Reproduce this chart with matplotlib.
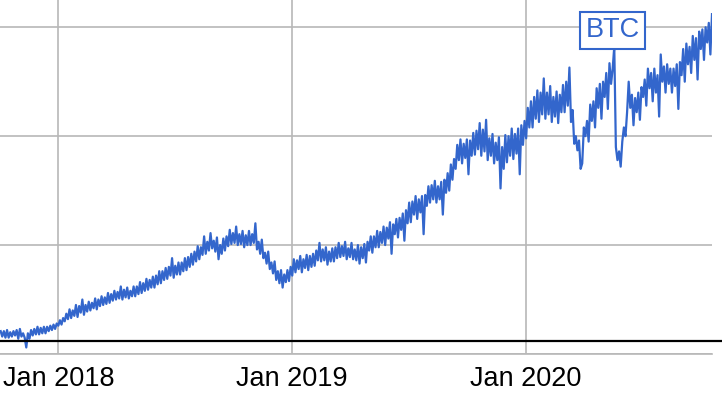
import numpy as np
import pandas as pd
import matplotlib
matplotlib.use("Agg")
import matplotlib.pyplot as plt
import matplotlib.dates as mdates

# values, one every 2.5 days from 2017-10-03
btc = [21, 16, 21, 15, 22, 15, 20, 16, 21, 17, 22, 14, 23, 16, 19, 15,
       6, 19, 14, 22, 17, 23, 18, 25, 18, 24, 19, 25, 19, 25, 21, 26,
       22, 27, 23, 28, 26, 31, 27, 33, 30, 37, 32, 41, 33, 40, 35, 45,
       34, 44, 38, 50, 36, 45, 39, 48, 40, 47, 42, 51, 41, 50, 44, 53,
       45, 52, 46, 56, 47, 55, 49, 58, 50, 57, 51, 62, 50, 59, 52, 61,
       51, 58, 53, 62, 53, 62, 55, 66, 56, 65, 58, 69, 59, 68, 61, 71,
       61, 72, 64, 76, 65, 76, 68, 79, 69, 80, 72, 88, 70, 81, 73, 84,
       73, 84, 76, 88, 77, 89, 80, 92, 82, 94, 85, 99, 87, 98, 91, 108,
       92, 103, 95, 111, 97, 104, 94, 107, 87, 100, 92, 106, 95, 108, 99, 114,
       101, 111, 102, 117, 100, 110, 101, 113, 98, 109, 100, 113, 100, 110, 102, 120,
       96, 103, 92, 105, 88, 93, 83, 94, 78, 84, 74, 85, 68, 76, 65, 77,
       61, 73, 66, 77, 67, 80, 72, 87, 75, 86, 78, 90, 75, 87, 79, 91,
       77, 90, 80, 92, 81, 95, 86, 102, 85, 96, 86, 98, 82, 94, 85, 97,
       85, 98, 88, 102, 89, 99, 90, 103, 87, 97, 89, 102, 87, 96, 86, 100,
       83, 98, 88, 101, 84, 103, 95, 108, 93, 108, 98, 113, 98, 112, 102, 117,
       100, 116, 106, 121, 92, 119, 110, 124, 107, 125, 114, 129, 104, 132, 120, 139,
       121, 140, 128, 145, 124, 142, 130, 145, 110, 146, 136, 154, 139, 155, 142, 159,
       139, 154, 142, 158, 128, 160, 148, 166, 150, 174, 160, 179, 170, 192, 178, 197,
       175, 193, 180, 197, 165, 196, 182, 203, 183, 205, 188, 212, 182, 206, 186, 215,
       178, 198, 182, 202, 175, 194, 178, 199, 152, 190, 170, 201, 176, 200, 182, 207,
       179, 202, 184, 207, 165, 210, 192, 214, 198, 226, 208, 232, 208, 236, 216, 242,
       213, 240, 220, 253, 216, 240, 220, 246, 213, 236, 218, 241, 212, 238, 222, 247,
       222, 250, 228, 263, 213, 224, 193, 200, 187, 196, 170, 175, 208, 200, 214, 195,
       229, 214, 232, 208, 244, 226, 248, 216, 250, 236, 258, 225, 267, 248, 262, 282,
       190, 178, 186, 172, 195, 208, 200, 222, 250, 226, 238, 210, 235, 222, 240, 215,
       245, 236, 252, 228, 262, 244, 258, 232, 262, 240, 256, 218, 275, 250, 264, 240,
       266, 248, 262, 240, 262, 246, 266, 225, 268, 256, 280, 250, 285, 266, 282, 258,
       292, 270, 290, 252, 296, 280, 298, 270, 300, 286, 304, 275, 312]
dates = pd.date_range("2017-10-03", periods=len(btc), freq="60h")
year_ticks = pd.to_datetime(["2018-01-01", "2019-01-01", "2020-01-01"])
tick_labels = ["Jan 2018", "Jan 2019", "Jan 2020"]
label_idx = 382  # where the BTC tag sits

blue = "#3366cc"
grid = "#b8b8b8"

plt.rcParams["font.family"] = ["Liberation Sans", "DejaVu Sans"]

fig = plt.figure(figsize=(7.22, 4.04), dpi=100)
ax = fig.add_axes([0, 50 / 404, 712 / 722, 354 / 404])

ax.plot(dates, btc, color=blue, lw=1.6, zorder=3)

ax.set_xlim(pd.Timestamp("2017-10-02"), pd.Timestamp("2020-10-17"))
ax.set_ylim(0, 325)

ax.set_yticks([0, 100, 200, 300])
ax.set_xticks(year_ticks)
ax.set_xticklabels(tick_labels, fontsize=19.5)
ax.tick_params(axis="x", length=0, pad=9)
ax.tick_params(axis="y", length=0, labelleft=False)
ax.grid(True, color=grid, lw=1.2, zorder=0)
for s in ["top", "right", "left"]:
    ax.spines[s].set_visible(False)
ax.spines["bottom"].set_color(grid)
ax.spines["bottom"].set_linewidth(1.2)

# black baseline runs across the whole width
ax.axhline(12, xmin=0, xmax=722 / 712, color="black", lw=1.6, clip_on=False, zorder=4)

ax.text(dates[label_idx], 297, "BTC", color=blue, fontsize=19.5, ha="center", va="center",
        zorder=5,
        bbox=dict(boxstyle="square,pad=0.2", fc="white", ec=blue, lw=1.5))

fig.savefig("out.png", dpi=100)
